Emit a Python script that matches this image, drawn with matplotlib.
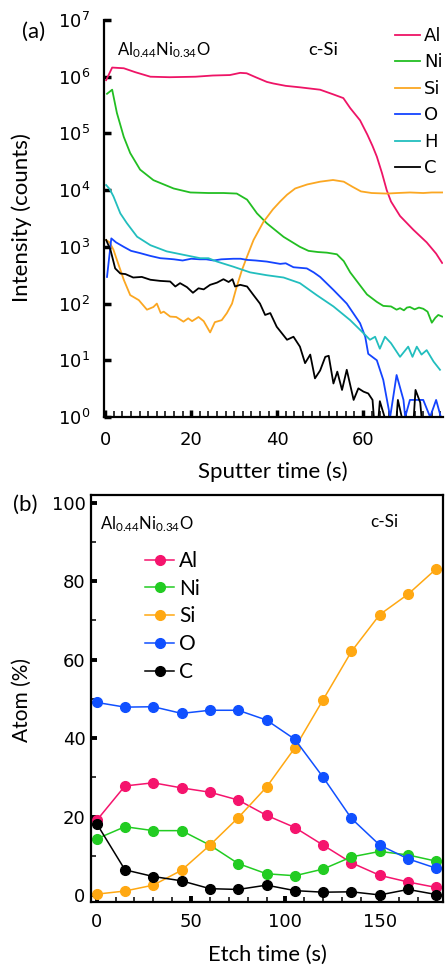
import matplotlib
matplotlib.use('Agg')
import matplotlib.pyplot as plt
from matplotlib.ticker import MultipleLocator, NullLocator

plt.rcParams['mathtext.fontset'] = 'custom'
plt.rcParams['mathtext.rm'] = 'DejaVu Sans'
plt.rcParams['mathtext.sf'] = 'Lato'
plt.rcParams['mathtext.it'] = 'DejaVu Sans:italic'
plt.rcParams['font.family'] = ['DejaVu Sans']

# ---------------- (a) depth profile data (sputter time s, intensity counts) ----------------
al_t = [0.2, 1.6, 4.3, 7.0, 10.5, 15.0, 21.0, 25.0, 29.0, 31.4, 32.9, 35.0, 37.6, 39.1, 42.0, 45.3,
        50.0, 53.0, 55.4, 57.0, 59.3, 61.0, 62.2, 63.2, 64.4, 65.5, 66.5, 68.6, 71.7, 74.8, 77.0, 78.4]
al_v = [8.7e5, 1.45e6, 1.41e6, 1.2e6, 1.0e6, 9.8e5, 1.0e6, 1.05e6, 1.07e6, 1.17e6, 1.15e6, 9.8e5,
        8.1e5, 7.6e5, 6.9e5, 6.5e5, 5.9e5, 4.9e5, 4.2e5, 2.8e5, 1.7e5, 9.5e4, 6.0e4, 3.9e4, 2.0e4,
        1.0e4, 6.3e3, 3.5e3, 2.0e3, 1.2e3, 7.6e2, 5.2e2]

ni_t = [0.4, 1.6, 2.7, 4.3, 5.8, 8.1, 11.2, 15.9, 19.8, 24.0, 27.5, 30.6, 33.0, 35.3, 37.6, 41.5,
        45.3, 47.3, 49.5, 51.6, 53.9, 55.5, 57.0, 59.0, 60.9, 63.2, 64.7, 66.5, 67.8, 68.6, 69.5,
        70.2, 70.9, 72.0, 73.0, 74.0, 75.0, 76.0, 76.8, 77.5, 78.4]
ni_v = [5.0e5, 5.9e5, 2.3e5, 8.7e4, 4.5e4, 2.3e4, 1.5e4, 1.07e4, 9.1e3, 8.9e3, 8.9e3, 8.7e3, 6.8e3,
        3.9e3, 2.6e3, 1.5e3, 1.0e3, 850, 810, 790, 740, 560, 355, 224, 145, 107, 91, 89, 78, 83, 76,
        85, 87, 79, 85, 81, 72, 46, 56, 63, 59]

si_t = [0.2, 1.0, 1.9, 2.7, 4.3, 5.8, 7.8, 9.7, 11.2, 12.0, 12.9, 13.6, 15.1, 16.5, 18.2, 19.3,
        20.2, 21.7, 22.9, 24.4, 25.5, 27.1, 28.3, 29.5, 30.6, 31.8, 33.0, 34.5, 36.8, 39.0, 40.7,
        42.3, 44.2, 47.0, 50.0, 53.0, 55.5, 57.5, 59.5, 62.0, 65.5, 68.0, 70.9, 74.0, 76.0, 78.4]
si_v = [1320, 1200, 890, 590, 263, 141, 115, 78, 87, 100, 68, 72, 59, 58, 48, 55, 49, 58, 49, 31,
        47, 51, 68, 100, 200, 389, 676, 1320, 2750, 4570, 6310, 8300, 10700, 12600, 14100, 15100,
        14100, 11500, 9500, 8900, 8700, 8900, 9100, 8900, 9100, 9100]

o_t = [0.4, 1.4, 2.5, 4.3, 6.0, 8.1, 10.5, 12.8, 14.5, 16.0, 18.0, 20.0, 22.0, 23.5, 25.2, 27.0,
       29.8, 31.5, 33.0, 35.0, 37.6, 40.7, 42.0, 43.8, 46.9, 48.5, 50.0, 53.1, 56.2, 59.3, 60.5,
       61.2, 63.2, 64.7, 66.3, 67.8, 69.4, 69.8, 70.9, 72.5, 74.0, 75.6, 77.0, 78.1]
o_v = [295, 1410, 1200, 1000, 850, 776, 692, 631, 617, 603, 575, 617, 603, 603, 575, 603, 617, 617,
       589, 575, 550, 501, 513, 437, 417, 355, 295, 174, 100, 45, 26, 13, 10, 4.5, 1, 5.5, 2, 1, 2,
       2, 2, 1, 2, 1]

h_t = [0.2, 1.0, 1.9, 3.5, 5.0, 7.4, 10.5, 14.3, 18.2, 22.1, 24.0, 26.0, 29.8, 33.7, 37.6, 41.5,
       45.3, 49.2, 53.1, 57.0, 60.1, 61.6, 62.8, 63.9, 65.1, 66.5, 68.6, 70.5, 71.5, 72.5, 73.6,
       74.8, 76.4, 77.9]
h_v = [12300, 10500, 7760, 3890, 2630, 1510, 1070, 832, 724, 631, 631, 550, 447, 355, 316, 288, 229,
       141, 89, 51, 30, 23, 26, 16, 26, 20, 11.5, 17.4, 11.5, 17.4, 12.6, 15.1, 9.5, 6.8]

c_t = [0.2, 1.2, 2.3, 3.5, 4.7, 6.5, 8.5, 10.5, 12.8, 15.1, 16.3, 17.4, 19.0, 20.4, 21.7, 22.9,
       24.4, 26.0, 27.5, 28.7, 29.6, 30.2, 31.4, 33.0, 34.5, 36.0, 37.2, 38.4, 39.9, 42.3, 43.8,
       45.3, 46.5, 47.7, 48.8, 50.0, 51.2, 52.0, 53.1, 54.0, 55.1, 56.2, 57.8, 58.9, 60.1, 61.2,
       62.2, 62.5, 63.6, 63.9, 65.0, 66.5, 67.8, 68.1, 69.0, 70.5, 71.8, 72.2, 73.3, 73.6, 76.0, 78.4]
c_v = [1320, 890, 417, 339, 331, 288, 295, 263, 251, 245, 200, 229, 195, 155, 186, 178, 214, 234,
       269, 240, 269, 200, 214, 200, 141, 100, 63, 68, 39, 23, 26, 17.4, 8.9, 12.6, 4.8, 6.6, 11.5,
       12.0, 3.9, 6.3, 3.0, 6.8, 2.0, 3.2, 2.8, 2.6, 2.0, 1, 1, 1.9, 1, 1, 1, 2.0, 1, 1, 1, 3.0,
       1.8, 1, 1, 1]

profile_labels = ['Al', 'Ni', 'Si', 'O', 'H', 'C']
profile_colors = ['#EE1466', '#22BE22', '#FBA722', '#1444FF', '#22BEBE', '#000000']

# ---------------- (b) composition data (etch time s, atom %) ----------------
etch_t = [0, 15, 30, 45, 60, 75, 90, 105, 120, 135, 150, 165, 180]
al_pct = [19.0, 27.8, 28.6, 27.3, 26.2, 24.2, 20.3, 17.2, 12.7, 8.2, 5.0, 3.3, 1.9]
ni_pct = [14.3, 17.4, 16.4, 16.4, 12.7, 8.0, 5.4, 4.9, 6.6, 9.7, 11.1, 10.2, 8.6]
si_pct = [0.2, 1.0, 2.5, 6.3, 12.7, 19.7, 27.5, 37.5, 49.8, 62.1, 71.5, 76.7, 83.2]
o_pct = [49.1, 47.9, 48.0, 46.3, 47.1, 47.1, 44.6, 39.7, 30.0, 19.5, 12.7, 9.2, 6.8]
c_pct = [18.2, 6.4, 4.7, 3.6, 1.6, 1.4, 2.5, 1.1, 0.7, 0.8, 0.0, 1.4, 0.1]
comp_labels = ['Al', 'Ni', 'Si', 'O', 'C']
comp_colors = ['#F5146D', '#22CC22', '#FFA812', '#1050FF', '#000000']

W, H = 445, 966
fig = plt.figure(figsize=(W / 100, H / 100), dpi=100)

def fx(px):
    return px / W

def fy(py):
    return 1 - py / H

TICKFONT = 13
LABFONT = ['Lato', 'DejaVu Sans']

# ---------------- panel (a) ----------------
ax1 = fig.add_axes([fx(104), fy(417), fx(443 - 104), (417 - 20) / H])
series = [(al_t, al_v), (ni_t, ni_v), (si_t, si_v), (o_t, o_v), (h_t, h_v), (c_t, c_v)]
for (t, v), lab, col in zip(series, profile_labels, profile_colors):
    ax1.plot(t, v, color=col, lw=1.3, label=lab)
ax1.set_yscale('log')
ax1.set_ylim(1, 1e7)
ax1.set_xlim(-0.3, 78.6)
ax1.set_yticks([10 ** k for k in range(8)])
ax1.set_yticklabels([r'$10^{%d}$' % k for k in range(8)])
ax1.yaxis.set_minor_locator(NullLocator())
ax1.set_xticks([0, 20, 40, 60])
ax1.xaxis.set_minor_locator(MultipleLocator(2))
for s in ['top', 'right']:
    ax1.spines[s].set_visible(False)
for s in ['left', 'bottom']:
    ax1.spines[s].set_linewidth(1.6)
ax1.tick_params(which='major', direction='in', length=5, width=2.5, labelsize=TICKFONT)
ax1.tick_params(which='minor', direction='in', length=4, width=1.1)
ax1.tick_params(axis='y', which='major', pad=10)
ax1.tick_params(axis='x', which='major', pad=10)
ax1.legend(loc='upper left', bbox_to_anchor=(fx(395), fy(27)), bbox_transform=fig.transFigure,
           frameon=False, handlelength=1.4, handletextpad=0.2, labelspacing=0.47,
           borderpad=0, borderaxespad=0, prop={'family': 'DejaVu Sans', 'size': 13})
ax1.text(fx(117), fy(50), r'$\mathsf{Al_{0.44}Ni_{0.34}O}$', transform=fig.transFigure,
         fontsize=12, ha='left', va='center')
ax1.text(fx(308), fy(50), 'c-Si', transform=fig.transFigure, fontsize=13.2, ha='left',
         va='center', family=LABFONT)
fig.text(fx(22), fy(32), '(a)', fontsize=16, ha='left', va='center', family=LABFONT)
fig.text(fx(22), fy(218), 'Intensity (counts)', rotation=90, fontsize=16, ha='center',
         va='center', family=LABFONT)
fig.text(fx(273), fy(472), 'Sputter time (s)', fontsize=16, ha='center', va='center',
         family=LABFONT)

# ---------------- panel (b) ----------------
ax2 = fig.add_axes([fx(91), fy(902), fx(443 - 91), (902 - 495) / H])
comp = [al_pct, ni_pct, si_pct, o_pct, c_pct]
for v, lab, col in zip(comp, comp_labels, comp_colors):
    ax2.plot(etch_t, v, color=col, lw=1.1, marker='o', ms=7, mec=col, mfc=col, label=lab)
ax2.set_xlim(-3, 183.5)
ax2.set_ylim(-1.8, 102)
ax2.set_xticks([0, 50, 100, 150])
ax2.xaxis.set_minor_locator(MultipleLocator(10))
ax2.set_yticks([0, 20, 40, 60, 80, 100])
ax2.yaxis.set_minor_locator(MultipleLocator(10))
for s in ax2.spines.values():
    s.set_linewidth(1.6)
ax2.tick_params(which='major', direction='in', length=4, width=2.8, labelsize=TICKFONT)
ax2.tick_params(which='minor', direction='in', length=3.5, width=1.1)
ax2.tick_params(axis='y', which='major', pad=4)
ax2.tick_params(axis='x', which='major', pad=8)
ax2.legend(loc='upper left', bbox_to_anchor=(fx(145), fy(551)), bbox_transform=fig.transFigure,
           frameon=False, handlelength=1.4, handletextpad=0.25, labelspacing=0.37, numpoints=1,
           borderpad=0, borderaxespad=0, prop={'family': LABFONT, 'size': 15})
fig.text(fx(100), fy(524), r'$\mathsf{Al_{0.44}Ni_{0.34}O}$', fontsize=12, ha='left',
         va='center')
fig.text(fx(370), fy(522), 'c-Si', fontsize=12.3, ha='left', va='center', family=LABFONT)
fig.text(fx(13), fy(505), '(b)', fontsize=16, ha='left', va='center', family=LABFONT)
fig.text(fx(22), fy(700), 'Atom (%)', rotation=90, fontsize=15, ha='center', va='center',
         family=LABFONT)
fig.text(fx(267), fy(955), 'Etch time (s)', fontsize=15.8, ha='center', va='center',
         family=LABFONT)

fig.savefig('out.png', dpi=100)
